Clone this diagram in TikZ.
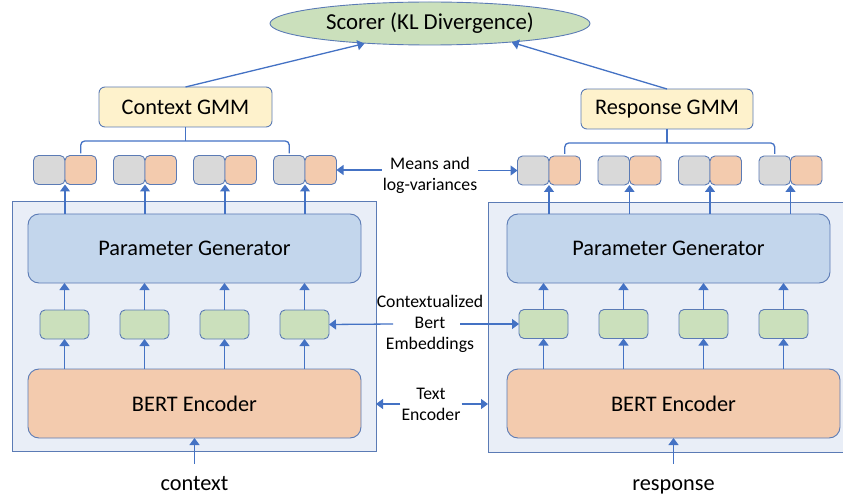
\documentclass[tikz,border=0pt]{standalone}
\usepackage{fontspec}
\setmainfont{Carlito}
\usepackage{tikz}
\usetikzlibrary{positioning}
\usetikzlibrary{shapes.geometric}
\usetikzlibrary{arrows.meta}

\definecolor{linkblue}{HTML}{4472C4}
\definecolor{edgeblue}{HTML}{5B7BB5}
\definecolor{outerfill}{HTML}{E9EEF7}
\definecolor{pgfill}{HTML}{C3D6EC}
\definecolor{embfill}{HTML}{CBE0BC}
\definecolor{varfill}{HTML}{F3CBAE}
\definecolor{meanfill}{HTML}{D9D9D9}
\definecolor{gmmfill}{HTML}{FEF2CC}

\newcommand{\diagbig}{\fontsize{22.3}{26}\selectfont}
\newcommand{\diagmid}{\fontsize{17.7}{21}\selectfont}

\begin{document}
\begin{tikzpicture}[x=1pt,y=-1pt,
    shapebox/.style={draw=edgeblue,line width=0.9pt,inner sep=0pt,outer sep=0pt},
    outerbox/.style={shapebox,fill=outerfill,minimum height=250pt},
    pgbox/.style={shapebox,fill=pgfill,rounded corners=11pt,minimum height=69pt,font=\diagbig},
    bertbox/.style={shapebox,fill=varfill,rounded corners=11pt,minimum height=69pt,font=\diagbig},
    embbox/.style={shapebox,fill=embfill,rounded corners=5pt,minimum width=49pt,minimum height=29pt},
    meanbox/.style={shapebox,fill=meanfill,rounded corners=5pt,minimum width=31.5pt,minimum height=29pt},
    varbox/.style={meanbox,fill=varfill},
    gmmbox/.style={shapebox,fill=gmmfill,rounded corners=6pt,minimum height=40pt,font=\diagbig},
    arr/.style={-{Triangle[width=10pt,length=7pt]},linkblue,line width=1.3pt},
    brk/.style={linkblue,line width=1.3pt,rounded corners=4pt},
    midlabel/.style={font=\diagmid,align=center,inner sep=1pt},
    inlabel/.style={font=\diagbig,text height=14pt,text depth=5pt,inner ysep=12pt,anchor=base}]
        \useasboundingbox (0,0) rectangle (843,497);

        % frames of the two text encoders
        \node[outerbox,minimum width=364pt] (outerL) at (194,326) {};
        \node[outerbox,minimum width=370pt] (outerR) at (673,327) {};

        \node[pgbox,minimum width=333pt] (pgL) at (194.5,248.5) {Parameter Generator};
        \node[pgbox,minimum width=323pt] (pgR) at (668.5,248.5) {Parameter Generator};
        \node[bertbox,minimum width=333pt] (bertL) at (194.5,403.5) {BERT Encoder};
        \node[bertbox,minimum width=333pt] (bertR) at (673.5,403.5) {BERT Encoder};

    \foreach \i in {1,...,4}{
        \node[embbox] (eL\i) at (-15.5+80*\i,324.5) {};
        \node[embbox] (eR\i) at (463.5+80*\i,324) {};
        \node[meanbox] (mL\i) at (-30.75+80*\i,170) {};
        \node[varbox] (vL\i) at (0.75+80*\i,170) {};
        \node[meanbox] (mR\i) at (452.75+80.5*\i,170.5) {};
        \node[varbox] (vR\i) at (484.25+80.5*\i,170.5) {};
        \draw[arr] (bertL.north -| eL\i) -- (eL\i.south);
        \draw[arr] (eL\i.north) -- (eL\i.north |- pgL.south);
        \draw[arr] (pgL.north -| mL\i.east) -- (mL\i.south east);
        \draw[arr] (bertR.north -| eR\i) -- (eR\i.south);
        \draw[arr] (eR\i.north) -- (eR\i.north |- pgR.south);
        \draw[arr] (pgR.north -| mR\i.east) -- (mR\i.south east);
    }

        \node[gmmbox,minimum width=173pt] (gmmL) at (185.5,107) {Context GMM};
        \node[gmmbox,minimum width=172pt] (gmmR) at (667,109) {Response GMM};
        \draw[brk] ([yshift=2pt]vL1.north) |- (gmmL.south |- 0,141) -| ([yshift=2pt]mL4.north);
        \draw[brk] (gmmL.south) -- (gmmL.south |- 0,141);
        \draw[brk] ([yshift=2pt]vR1.north) |- (gmmR.south |- 0,143) -| ([yshift=2pt]mR4.north);
        \draw[brk] (gmmR.south) -- (gmmR.south |- 0,143);

        \node[ellipse,draw=edgeblue,line width=0.9pt,fill=embfill,minimum width=320pt,minimum height=43pt,inner sep=0pt,font=\fontsize{22.8}{26}\selectfont] (scorer) at (430,23.5) {Scorer (KL Divergence)};
        \draw[arr] (gmmL.north) -- (scorer.197);
        \draw[arr] (gmmR.north) -- (scorer.347);

        \node[midlabel] (means) at (430,175) {Means and\\log-variances};
        \draw[arr] (means.west |- vL4.east) -- (vL4.east);
        \draw[arr] (means.east |- mR1.west) -- (mR1.west);

        \node[midlabel] (embtxt) at (430,324) {Contextualized\\Bert\\Embeddings};
        \coordinate (embW) at ([xshift=-37pt]embtxt.center);
        \coordinate (embE) at ([xshift=30pt]embtxt.center);
        \draw[arr] (embW) -- (eL4.east);
        \draw[arr] (embE) -- (eR1.west);

        \node[midlabel] (enc) at (431,404) {Text\\Encoder};
        \draw[arr] (enc.west) -- (enc.west -| outerL.east);
        \draw[arr] (enc.east) -- (enc.east -| outerR.west);

        \node[inlabel] (ctx) at (194.5,490) {context};
        \node[inlabel] (resp) at (673.5,490) {response};
        \draw[arr] (ctx.north) -- (bertL.south);
        \draw[arr] (resp.north) -- (bertR.south);
\end{tikzpicture}
\end{document}
